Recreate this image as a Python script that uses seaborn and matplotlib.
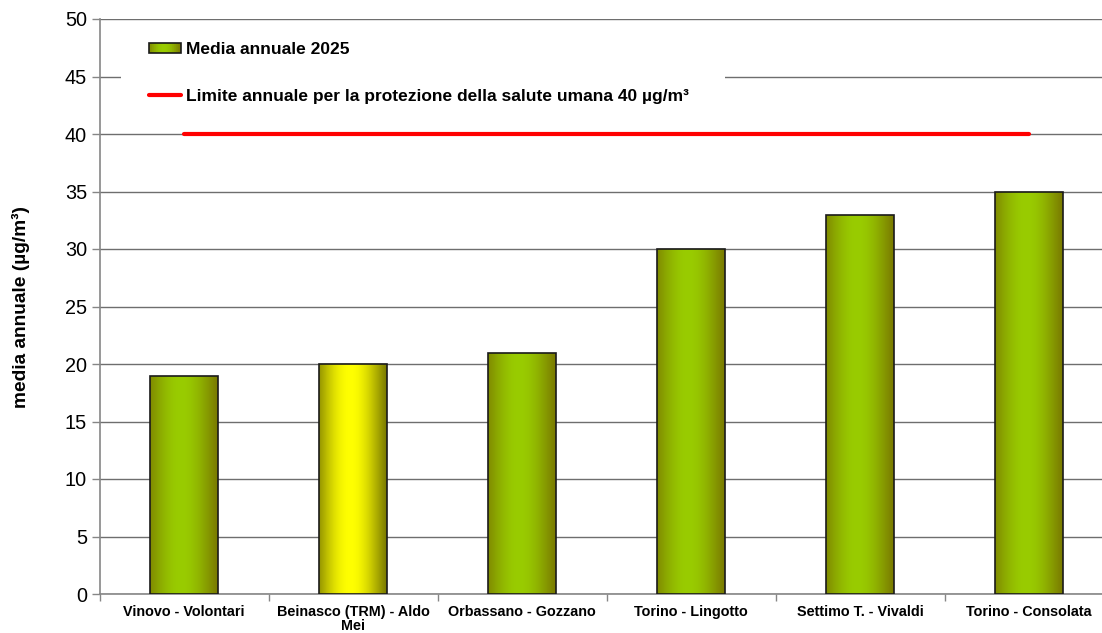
import numpy as np
import matplotlib
matplotlib.use("Agg")
import matplotlib.pyplot as plt
import matplotlib.colors as mcolors
import matplotlib.transforms as mtransforms
from matplotlib.lines import Line2D
from matplotlib.patches import Patch, Rectangle
from matplotlib.legend_handler import HandlerBase
import seaborn as sns

stazioni = ["Vinovo - Volontari", "Beinasco (TRM) - Aldo\nMei", "Orbassano - Gozzano",
            "Torino - Lingotto", "Settimo T. - Vivaldi", "Torino - Consolata"]
media_2025 = [19, 20, 21, 30, 33, 35]
limite = [40, 40, 40, 40, 40, 40]
centro_colori = ["#99CC00", "#FFFF00", "#99CC00", "#99CC00", "#99CC00", "#99CC00"]
bordo_colore = "#7A7A00"
y_ticks = [0, 5, 10, 15, 20, 25, 30, 35, 40, 45, 50]

sns.set_theme(style="white")
plt.rcParams["font.family"] = ["Liberation Sans", "DejaVu Sans"]
plt.rcParams["text.color"] = "black"

W, H = 1102, 633
fig = plt.figure(figsize=(W / 100, H / 100), dpi=100)
# plot area: the last category slot runs slightly past the right image edge
left_px, right_px, top_px, bottom_px = 99.5, 1113.5, 19, 594
ax = fig.add_axes([left_px / W, 1 - bottom_px / H,
                   (right_px - left_px) / W, (bottom_px - top_px) / H])

sns.barplot(x=stazioni, y=media_2025, ax=ax, width=0.4, color="#99CC00",
            edgecolor="#1A1A1A", linewidth=1.2, zorder=3)


# horizontal gradient: dark olive edges, bright centre
def gradiente(centro, n=256):
    t = np.linspace(-1, 1, n)
    w = np.cos((t + 0.08) / 1.08 * np.pi / 2).clip(0) ** 1.1
    c0 = np.array(mcolors.to_rgb(bordo_colore))
    c1 = np.array(mcolors.to_rgb(centro))
    return c0[None, :] * (1 - w[:, None]) + c1[None, :] * w[:, None]


for patch, col in zip(ax.patches, centro_colori):
    x0, y0 = patch.get_x(), patch.get_y()
    w, h = patch.get_width(), patch.get_height()
    im = ax.imshow(gradiente(col)[None, :, :], extent=[x0, x0 + w, y0, y0 + h],
                   aspect="auto", zorder=3.5, interpolation="bilinear")
    im.set_clip_path(patch)
    patch.set_facecolor("none")
    patch.set_zorder(4)

sns.lineplot(x=list(range(len(stazioni))), y=limite, ax=ax, color="#FF0000",
             linewidth=3, zorder=5)

n = len(stazioni)
ax.set_autoscale_on(False)
ax.set_xlim(-0.5, n - 0.5)
ax.set_ylim(0, 50)
ax.set_yticks(y_ticks)
ax.set_yticklabels([str(v) for v in y_ticks], fontsize=14.3, color="black")
ax.set_xticks(range(n))
ax.set_xticklabels(stazioni, fontsize=10.4, fontweight="bold", color="black",
                   linespacing=1.0)
ax.set_xticks([i - 0.5 for i in range(n + 1)], minor=True)
ax.tick_params(axis="x", which="major", length=0, pad=8)
ax.tick_params(axis="x", which="minor", length=5, width=1, color="#868686",
               direction="out", bottom=True)
ax.tick_params(axis="y", length=6, width=1, color="#868686", direction="out",
               left=True, pad=3)

ax.yaxis.grid(True, color="#6E6E6E", linewidth=1)
ax.set_axisbelow(True)
for s in ["top", "right"]:
    ax.spines[s].set_visible(False)
for s in ["left", "bottom"]:
    ax.spines[s].set_color("#868686")
    ax.spines[s].set_linewidth(1.2)

ax.set_ylabel("media annuale (µg/m³)", fontsize=13.8, fontweight="bold",
              color="black")
ax.yaxis.set_label_coords(-0.069, 0.5)

# white legend area hiding the gridline behind the legend entries
ax_w = right_px - left_px
bg = Rectangle(((121 - left_px) / ax_w, 41.5), (725 - 121) / ax_w, 7.5,
               transform=mtransforms.blended_transform_factory(ax.transAxes, ax.transData),
               facecolor="white", edgecolor="none", zorder=2.5)
ax.add_patch(bg)


class GradientHandler(HandlerBase):
    """Legend key drawn as a small bar with the same horizontal gradient."""

    def create_artists(self, legend, orig_handle, xdescent, ydescent,
                       width, height, fontsize, trans):
        cols = gradiente("#99CC00", 48)
        step = width / len(cols)
        arts = [Rectangle((-xdescent + i * step, -ydescent), step * 1.05, height,
                          facecolor=c, edgecolor="none", transform=trans)
                for i, c in enumerate(cols)]
        arts.append(Rectangle((-xdescent, -ydescent), width, height,
                              facecolor="none", edgecolor="#1A1A1A",
                              linewidth=1.2, transform=trans))
        return arts


barra_key = Patch(facecolor="#99CC00", edgecolor="#1A1A1A")
handles = [barra_key, Line2D([0], [0], color="#FF0000", linewidth=3)]
labels = ["Media annuale 2025",
          "Limite annuale per la protezione della salute umana 40 µg/m³"]
leg = ax.legend(handles, labels, loc="upper left",
                bbox_to_anchor=((149 - left_px) / ax_w, (bottom_px - 42) / (bottom_px - top_px)),
                frameon=False, prop={"weight": "bold", "size": 12.5},
                labelcolor="black",
                labelspacing=1.85, handlelength=1.85, handleheight=0.55,
                handletextpad=0.3, borderpad=0, borderaxespad=0,
                handler_map={barra_key: GradientHandler()})
leg.set_zorder(6)

fig.savefig("out.png", dpi=100, facecolor="white")
